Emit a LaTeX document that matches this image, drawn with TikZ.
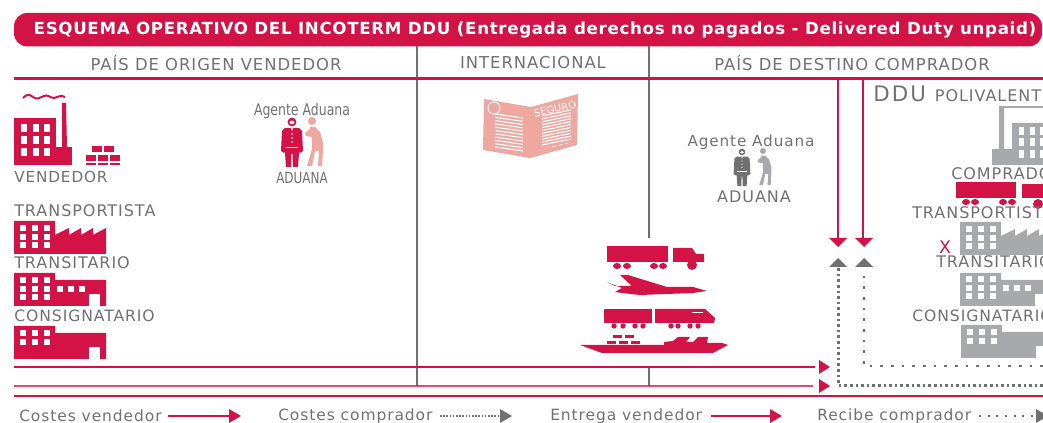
\documentclass[tikz,border=0pt]{standalone}
\usepackage{fontspec}
\setmainfont{DejaVu Sans}
\newfontfamily\spaced[LetterSpace=6]{DejaVu Sans}
\newfontfamily\narrow[FakeStretch=0.78]{DejaVu Sans}
\usepackage{tikz}
\definecolor{rojo}{RGB}{211,18,69}
\definecolor{rosa}{RGB}{238,168,160}
\definecolor{gris}{RGB}{112,112,112}
\definecolor{grisclaro}{RGB}{168,169,173}
\tikzset{
    label/.style={text=gris,inner sep=0pt,font=\spaced\fontsize{12}{12}\selectfont},
    capt/.style={label,anchor=west},
    head/.style={label,font=\spaced\fontsize{12.3}{12}\selectfont},
    legend/.style={capt,font=\spaced\fontsize{11.6}{12}\selectfont},
    redline/.style={draw=rojo,line width=2.1pt},
    thinred/.style={draw=rojo,line width=1.7pt},
    divider/.style={draw=gris,line width=2.1pt},
    dots/.style={draw=gris,line width=2.2pt,dash pattern=on 2pt off 2.2pt},
    sparse/.style={draw=gris,line width=2.2pt,dash pattern=on 2pt off 6pt},
    win/.style={fill=white},
}
% grid of windows: x, y, rows
\newcommand{\windows}[3]{%
    \foreach \i in {0,1,2} \foreach \j in {1,...,#3}
        \fill[win] (#1+\i*12,#2+\j*8.7-8.7) rectangle +(6,6);}
\newcommand{\shed}[3]{% x, y (top left), colour
    \fill[#3] (#1,#2) -- ++(41,0) -- ++(0,7) -- ++(51,0) -- ++(0,26) -- ++(-92,0) -- cycle;
    \fill[white] (#1+75,#2+21) rectangle +(11,13);}
\newcommand{\saw}[3]{% x, y, colour
    \fill[#3] (#1,#2) -- ++(41,0) -- ++(0,14) -- ++(14,-7) -- ++(0,7) -- ++(12,-7) -- ++(0,7) -- ++(12,-7) -- ++(0,7) -- ++(13,-7) -- ++(0,26) -- ++(-92,0) -- cycle;}
\newcommand{\lorry}[3]{% x, y, colour
    \fill[#3] (#1,#2) rectangle +(61,16);
    \foreach \w in {10,20,47,56} \fill[#3] (#1+\w,#2+20) ellipse (4 and 3);
    \fill[#3] (#1+66,#2+2) -- ++(19,0) -- ++(4,6) -- ++(8,0) -- ++(0,8) -- ++(-31,0) -- cycle;
    \fill[#3] (#1+85,#2+19) circle (5);}
\newcommand{\person}[4]{% head x, y, scale, colour
    \begin{scope}[shift={(#1,#2)},scale=#3]
    \fill[#4] (0,0) circle (4.4);
    \fill[white] (0,0.4) ellipse (2.4 and 1.8);
    \fill[#4] (-7,6) -- (7,6) -- (10,9) -- (11,29) -- (8,31) -- (7,30) -- (7,31) -- (6,45) -- (1,45) -- (0.5,32) -- (-0.5,32) -- (-1,45) -- (-6,45) -- (-7,31) -- (-7,30) -- (-8,31) -- (-11,29) -- (-10,9) -- cycle;
    \fill[white] (-1,6) -- (1,6) -- (0,9) -- cycle;
    \draw[white,line width=0.5pt] (-6,25) -- (6,25);
    \foreach \b in {12,16,20} \fill[white] (0,\b) circle (0.8);
    \end{scope}}
\newcommand{\helper}[4]{% head x, y, scale, colour
    \begin{scope}[shift={(#1,#2)},scale=#3]
    \fill[#4] (0,0) circle (4);
    \fill[#4] (-7,12) -- (-2,8) -- (-2,6) -- (3,6) -- (8,11) -- (11,22) -- (11,29) -- (10,45) -- (6,45) -- (7,30) -- (3,30) -- (0,45) -- (-5,45) -- (0,28) -- (0,16) -- (-6,15) -- cycle;
    \end{scope}}
\begin{document}
\begin{tikzpicture}[x=0.75pt,y=-0.75pt]
    \useasboundingbox (0,0) rectangle (1043,423);
    \clip (0,0) rectangle (1043,423);
    % banner and columns
    \fill[rojo,rounded corners=10pt] (14,13) rectangle (1042,46.5);
    \node (banner) at (535,30) {\textcolor{white}{\bfseries\fontsize{12.5}{13}\selectfont\addfontfeature{LetterSpace=4}ESQUEMA OPERATIVO DEL INCOTERM DDU (Entregada derechos no pagados - Delivered Duty unpaid)}};
    \draw[divider] (417,46) -- (417,386);
    \draw[divider] (649,46) -- (649,238);
    \draw[divider] (649,368) -- (649,386);
    \node[head] (origen) at (216,63) {PAÍS DE ORIGEN VENDEDOR};
    \node[head] (inter) at (533,63) {INTERNACIONAL};
    \node[head] (destino) at (852,63) {PAÍS DE DESTINO COMPRADOR};
    \draw[redline] (14,78.5) -- (1043,78.5);
    % seller
    \fill[rojo] (14,118) rectangle (56,165);
    \fill[rojo] (56,147) rectangle (72,165);
    \fill[rojo] (62,103) -- (66,103) -- (67,147) -- (62,147) -- cycle;
    \foreach \i in {0,1,2} \foreach \j in {0,1,2} \fill[win] (21+\i*11.7,124+\j*12) rectangle +(6,8);
    \draw[rojo,line width=1.5pt] (23,98) .. controls (27,94) and (29,94) .. (33,97) .. controls (37,100) and (39,98) .. (44,96) .. controls (48,94) and (50,98) .. (54,98) .. controls (58,98) and (60,94) .. (65,97);
    \foreach \cx/\cy in {92/146,104/146,86/155,98/155,110/155} \fill[rojo] (\cx,\cy) rectangle +(10,6);
    \foreach \cx in {86,98,110} \fill[rojo] (\cx,163) rectangle +(10,2);
    \node[capt,font=\spaced\fontsize{11.4}{12}\selectfont] (vendedor) at (14,177) {VENDEDOR};
    \node[capt] (transp) at (14,211) {TRANSPORTISTA};
    \saw{14}{221}{rojo}
    \windows{20}{225}{3}
    \node[capt] (transit) at (14,263) {TRANSITARIO};
    \shed{14}{273}{rojo}
    \windows{20}{277}{3}
    \foreach \k in {57,68,79} \fill[win] (\k,285.7) rectangle +(6,6);
    \node[capt,font=\spaced\fontsize{11.7}{12}\selectfont] (consig) at (14,316) {CONSIGNATARIO};
    \shed{14}{326}{rojo}
    \windows{20}{330}{2}
    % customs at origin
    \node[text=gris,inner sep=0pt] (agente) at (302,111) {\narrow\fontsize{12}{12}\selectfont Agente Aduana};
    \person{292}{122}{1}{rojo}
    \helper{312}{121}{1}{rosa}
    \node[text=gris,inner sep=0pt] (aduana) at (302,178) {\narrow\fontsize{11.5}{12}\selectfont ADUANA};
    % insurance leaflet
    \fill[rosa] (484,99) -- (531,107) -- (578,94) -- (577,145) -- (530,158) -- (483,150) -- cycle;
    \foreach \k in {0,...,10} {
        \draw[white,line width=0.8pt] (495,114+\k*3.3) -- (523,118+\k*3.3);
        \draw[white,line width=0.8pt] (542,116+\k*2.9) -- (571,110+\k*2.9);}
    \draw[white,line width=0.7pt] (494,108) circle (6);
    \draw[white,line width=0.5pt,dash pattern=on 3pt off 2pt] (505,148) -- (520,150);
    \draw[white,line width=0.5pt,dash pattern=on 3pt off 2pt] (552,147) -- (568,143);
    \node[text=white,inner sep=0pt,rotate=13] (seguro) at (555,109) {\fontsize{7.6}{8}\selectfont SEGURO};
    % customs at destination
    \node[text=gris,inner sep=0pt] (agente2) at (751,142) {\spaced\fontsize{11.4}{12}\selectfont Agente Aduana};
    \person{742}{152}{0.76}{gris}
    \helper{763}{151}{0.76}{grisclaro}
    \node[label] (aduana2) at (754,197) {ADUANA};
    % transport
    \lorry{607}{246}{rojo}
    \fill[rojo] (607,282) -- (615,286) -- (632,286) -- (620,275) -- (628,275) -- (667,287) -- (693,287) -- (707,291) -- (693,293) -- (640,295) -- (622,293) -- (615,292) -- (622,288) -- cycle;
    \fill[rojo] (604,309) rectangle (652,323);
    \fill[rojo] (655,309) -- (705,309) -- (715,318) -- (714,323) -- (655,323) -- cycle;
    \draw[white,line width=0.6pt] (692,312) -- (703,312);
    \foreach \w in {614,623,635,643,671,678,690,698} \fill[rojo] (\w,326) circle (2.7);
    \fill[rojo] (580,345) -- (664,345) -- (664,342) -- (673,341) -- (678,337) -- (690,337) -- (686,342) -- (693,342) -- (698,337) -- (708,337) -- (707,343) -- (722,343) -- (728,345) -- (713,353) -- (602,353) -- cycle;
    \foreach \cx/\cy in {613/335,625/335,607/341,619/341,631/341} \fill[rojo] (\cx,\cy) rectangle +(9,3);
    % freight lines
    \draw[redline] (14,367) -- (815,367);
    \draw[thinred,opacity=0.75] (14,386) -- (813,386);
    \draw[redline] (14,396) -- (1043,396);
    \fill[rojo] (819,360) -- (830,367) -- (819,374) -- cycle;
    \fill[rojo] (819,379) -- (830,386) -- (819,393) -- cycle;
    % buyer column
    \draw[thinred] (838,78) -- (838,238);
    \draw[redline] (863,78) -- (863,238);
    \fill[rojo] (829,238) -- (847,238) -- (838,247) -- cycle;
    \fill[rojo] (855,238) -- (873,238) -- (864,247) -- cycle;
    \draw[dots] (1043,385.5) -- (838.5,385.5) -- (838.5,268);
    \draw[sparse] (1043,366) -- (864,366) -- (864,268);
    \fill[gris] (829,267) -- (847,267) -- (838,258) -- cycle;
    \fill[gris] (855,267) -- (873,267) -- (864,258) -- cycle;
    \node[text=gris,inner sep=0pt,anchor=west] (ddu) at (873,94) {\addfontfeature{LetterSpace=10}\fontsize{16}{16}\selectfont DDU \addfontfeature{LetterSpace=6}\fontsize{12}{12}\selectfont POLIVALENTE};
    \fill[grisclaro] (992,165) -- (992,149) -- (999,149) -- (999,106) -- (1004,106) -- (1004,149) -- (1012,149) -- (1012,123) -- (1050,123) -- (1050,165) -- cycle;
    \foreach \k in {0,1,2} \foreach \l in {0,1,2} \fill[win] (1019+\k*10.5,127+\l*11.5) rectangle +(5,8);
    \draw[grisclaro,line width=1.2pt] (999,107) -- (1043,107);
    \node[capt] (comprador) at (951,174) {COMPRADOR};
    \fill[rojo] (956,182) rectangle (1016,198);
    \fill[rojo] (1022,184) -- (1050,184) -- (1050,198) -- (1022,198) -- cycle;
    \foreach \w in {966,975,1003,1012} \fill[rojo] (\w,202) ellipse (4 and 3);
    \fill[rojo] (1038,204) circle (5);
    \node[capt] (transp2) at (912,213) {TRANSPORTISTA};
    \saw{960}{222}{grisclaro}
    \windows{966}{226}{3}
    \node[text=rojo,inner sep=0pt] (equis) at (945,247) {\fontsize{13}{13}\selectfont X};
    \node[capt] (transit2) at (936,262) {TRANSITARIO};
    \shed{960}{273}{grisclaro}
    \windows{966}{276}{3}
    \foreach \k in {1003,1014,1025} \fill[win] (\k,284.7) rectangle +(6,6);
    \node[capt,font=\spaced\fontsize{11.7}{12}\selectfont] (consig2) at (912,316) {CONSIGNATARIO};
    \shed{961}{325}{grisclaro}
    \windows{967}{329}{2}
    % legend
    \node[legend] (lvend) at (19,416) {Costes vendedor};
    \node[legend] (lcomp) at (278,416) {Costes comprador};
    \node[legend] (lent) at (550,416) {Entrega vendedor};
    \node[legend] (lrec) at (817,416) {Recibe comprador};
    \coordinate (e1) at (229,416);
    \coordinate (e2) at (500,416);
    \coordinate (e3) at (770,416);
    \coordinate (e4) at (1036,416);
    \draw[thinred] (168,416) -- (e1);
    \draw[dots,line width=1.8pt,dash pattern=on 1.2pt off 1.2pt] (440,416) -- (e2);
    \draw[rojo,line width=1.3pt] (711,416) -- (e3);
    \draw[sparse,line width=1.8pt,dash pattern=on 1.5pt off 5pt] (979,416) -- (e4);
    \fill[rojo] (229,409) -- (241,416) -- (229,423) -- cycle;
    \fill[gris] (500,409) -- (512,416) -- (500,423) -- cycle;
    \fill[rojo] (770,409) -- (782,416) -- (770,423) -- cycle;
    \fill[gris] (1036,409) -- (1048,416) -- (1036,423) -- cycle;
\end{tikzpicture}
\end{document}
